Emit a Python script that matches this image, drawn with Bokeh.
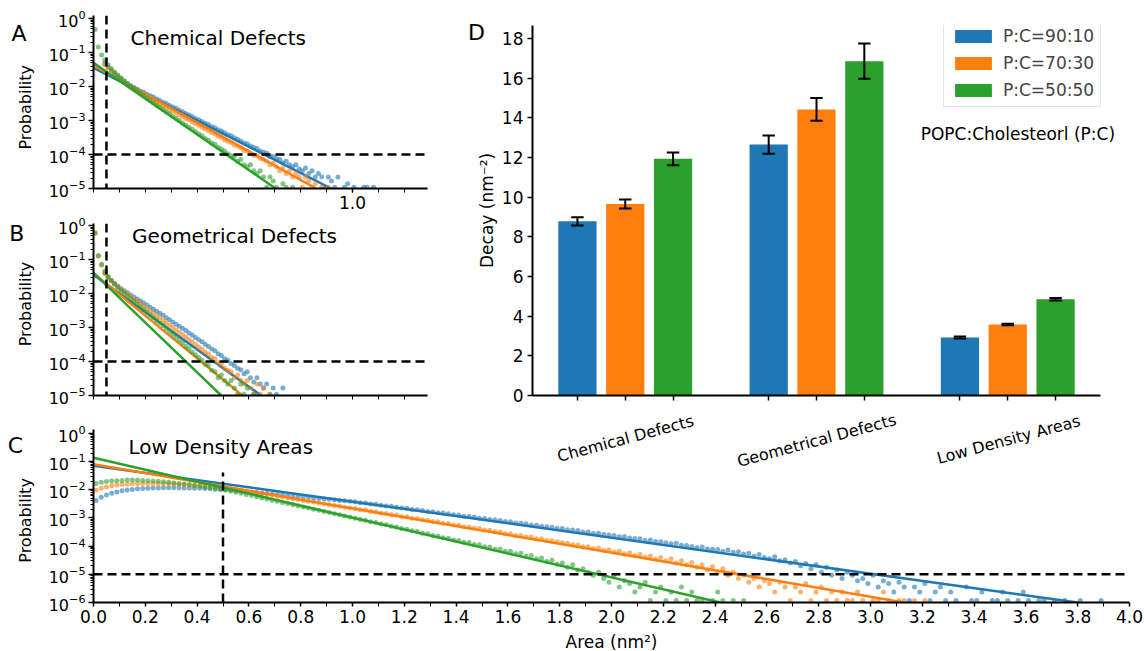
import numpy as np
from bokeh.plotting import figure
from bokeh.layouts import column, row
from bokeh.models import (Range1d, FixedTicker, CustomJSTickFormatter, Label, Span,
                          Legend, LegendItem)
from bokeh.embed import file_html
from bokeh.resources import INLINE

FONT = "DejaVu Sans"
COLORS = ["#1f77b4", "#ff7f0e", "#2ca02c"]
SERIES = ["P:C=90:10", "P:C=70:30", "P:C=50:50"]

# ---------------- area histograms: log10(probability) per bin, None = empty bin
# chemical defects, bin width 0.0125 nm^2
A_BIN = 0.0125
A_90_10 = [None, None, None, -1.33, -1.43, -1.52, -1.61, -1.70, -1.77, -1.85,
           -1.92, -1.98, -2.03, -2.08, -2.13, -2.17, -2.23, -2.27, -2.31, -2.37,
           -2.41, -2.46, -2.50, -2.56, -2.60, -2.64, -2.70, -2.74, -2.79, -2.84,
           -2.88, -2.94, -2.98, -3.03, -3.08, -3.12, -3.18, -3.21, -3.27, -3.31,
           -3.36, -3.42, -3.45, -3.51, -3.55, -3.60, -3.66, -3.68, -3.75, -3.79,
           -3.82, -3.90, -3.93, -3.96, -4.05, -4.06, -4.12, -4.15, -4.24, -4.20,
           -4.30, -4.36, -4.30, -4.42, -4.48, -4.40, -4.56, -4.48, -4.66, -4.56,
           -4.66, -4.96, -4.66, -4.78, -4.96, -4.66, None, -4.96, -4.86, None,
           -4.96, None, None, -4.96, -4.96, None, -4.96]
A_70_30 = [None, None, None, -1.36, -1.45, -1.55, -1.64, -1.73, -1.81, -1.89,
           -1.96, -2.02, -2.08, -2.14, -2.19, -2.25, -2.30, -2.35, -2.41, -2.46,
           -2.51, -2.57, -2.62, -2.67, -2.73, -2.77, -2.83, -2.88, -2.94, -2.98,
           -3.04, -3.09, -3.14, -3.20, -3.24, -3.30, -3.35, -3.40, -3.46, -3.50,
           -3.57, -3.61, -3.65, -3.72, -3.76, -3.80, -3.88, -3.90, -3.97, -4.02,
           -4.04, -4.12, -4.15, -4.20, -4.30, -4.26, -4.36, -4.48, -4.40, -4.56,
           -4.48, -4.66, -4.56, -4.66, -4.96, -4.66, -4.78, -4.96, -4.86, None,
           -4.96, None, -4.96]
A_50_50 = [-0.32, -0.84, -1.07, -1.22, -1.36, -1.47, -1.57, -1.66, -1.75, -1.83,
           -1.91, -1.99, -2.06, -2.13, -2.20, -2.27, -2.35, -2.41, -2.48, -2.55,
           -2.61, -2.68, -2.75, -2.80, -2.88, -2.93, -3.00, -3.07, -3.13, -3.20,
           -3.26, -3.33, -3.40, -3.45, -3.53, -3.58, -3.66, -3.70, -3.79, -3.84,
           -3.90, -3.98, -4.04, -4.06, -4.20, -4.15, -4.30, -4.36, -4.30, -4.48,
           -4.56, -4.48, -4.66, -4.96, -4.66, -4.78, -4.96, None, -4.86, -4.96,
           None, -4.96]
# exponential fits: log10 P at zero area, and area where the fit reaches the floor
A_FIT_P0 = [-1.45, -1.38, -1.30]
A_FIT_END = [0.918, 0.860, 0.703]

# geometrical defects, bin width 0.0125 nm^2
B_BIN = 0.0125
B_90_10 = [None, None, None, -1.40, -1.52, -1.62, -1.70, -1.78, -1.85, -1.92,
           -1.98, -2.04, -2.10, -2.16, -2.22, -2.28, -2.34, -2.40, -2.46, -2.52,
           -2.58, -2.64, -2.71, -2.77, -2.84, -2.90, -2.96, -3.02, -3.09, -3.16,
           -3.22, -3.29, -3.36, -3.42, -3.49, -3.56, -3.63, -3.68, -3.77, -3.82,
           -3.92, -3.96, -4.06, -4.12, -4.20, -4.24, -4.36, -4.30, -4.48, -4.60,
           -4.48, -4.66, -4.78, -4.66, -4.96, -4.78, -4.96, None, -4.78]
B_70_30 = [-0.23, -0.90, -1.17, -1.40, -1.52, -1.63, -1.72, -1.80, -1.88, -1.95,
           -2.02, -2.09, -2.16, -2.23, -2.30, -2.37, -2.44, -2.51, -2.58, -2.65,
           -2.72, -2.79, -2.86, -2.93, -3.00, -3.07, -3.14, -3.21, -3.28, -3.35,
           -3.42, -3.50, -3.57, -3.64, -3.72, -3.78, -3.88, -3.92, -4.04, -4.08,
           -4.20, -4.26, -4.30, -4.48, -4.40, -4.56, -4.66, -4.56, -4.78, -4.96,
           -4.66, -4.96, -4.78, None, -4.96]
B_50_50 = [-0.21, -0.88, -1.14, -1.34, -1.50, -1.62, -1.73, -1.82, -1.91, -1.99,
           -2.07, -2.15, -2.23, -2.31, -2.39, -2.47, -2.55, -2.63, -2.71, -2.79,
           -2.87, -2.95, -3.03, -3.12, -3.20, -3.28, -3.37, -3.45, -3.55, -3.62,
           -3.72, -3.80, -3.88, -3.96, -4.08, -4.12, -4.26, -4.30, -4.48, -4.40,
           -4.56, -4.66, -4.56, -4.78, -4.96, -4.66, -4.96, -4.78, None, -4.96]
B_FIT_P0 = [-1.45, -1.40, -1.39]
B_FIT_END = [0.647, 0.575, 0.493]

# low density areas, bin width 0.02 nm^2
C_BIN = 0.02
C_90_10 = [-2.38, -2.27, -2.19, -2.13, -2.08, -2.04, -2.01, -1.99, -1.97, -1.96,
           -1.95, -1.94, -1.94, -1.93, -1.93, -1.93, -1.93, -1.94, -1.94, -1.95,
           -1.95, -1.96, -1.97, -1.98, -1.99,
           -2.00, -2.02, -2.03, -2.05, -2.07, -2.08, -2.10, -2.12, -2.13, -2.15,
           -2.17, -2.18, -2.20, -2.22, -2.24, -2.25, -2.27, -2.29, -2.31, -2.32,
           -2.34, -2.36, -2.38, -2.39, -2.41,
           -2.43, -2.46, -2.47, -2.51, -2.52, -2.55, -2.58, -2.59, -2.62, -2.65,
           -2.66, -2.70, -2.71, -2.74, -2.77, -2.78, -2.82, -2.83, -2.85, -2.89,
           -2.90, -2.94, -2.95, -2.97, -3.01, -3.02, -3.06, -3.07, -3.09, -3.13,
           -3.14, -3.18, -3.19, -3.21, -3.25, -3.26, -3.30, -3.31, -3.33, -3.37,
           -3.38, -3.42, -3.43, -3.45, -3.50, -3.50, -3.55, -3.54, -3.59, -3.61,
           -3.62, -3.67, -3.66, -3.71, -3.73, -3.74, -3.80, -3.78, -3.84, -3.85,
           -3.88, -3.92, -3.90, -3.97, -3.98, -4.01, -4.06, -4.03, -4.10, -4.11,
           -4.12, -4.18, -4.14, -4.22, -4.20, -4.28, -4.25, -4.36, -4.30, -4.40,
           -4.45, -4.38, -4.52, -4.48, -4.60, -4.55, -4.70, -4.62, -4.80, -4.66,
           -4.93, -4.75, -5.03, -4.85, -5.15, -4.93, -5.03, -5.23, -5.15, -5.33,
           -5.03, -5.45, -5.23, -5.33, -5.63, -5.28, -5.45, -5.93, -5.45, -5.63,
           -5.33, -5.93, -5.63, -5.45, -5.93, -5.63, -5.93, None, -5.45, -5.93,
           -5.93, -5.63, None, -5.93, -5.93, -5.63, -5.93, None, -5.93, -5.63,
           -5.93, None, -5.93, -5.93, None, -5.93, None, -5.93, None, None,
           -5.93, None, None, None, -5.93]
C_70_30 = [-2.02, -1.95, -1.90, -1.86, -1.83, -1.81, -1.80, -1.79, -1.78, -1.78,
           -1.78, -1.78, -1.78, -1.79, -1.79, -1.80, -1.81, -1.82, -1.83, -1.84,
           -1.85, -1.86, -1.88, -1.89, -1.91,
           -1.93, -1.96, -1.99, -2.02, -2.05, -2.08, -2.11, -2.14, -2.17, -2.20,
           -2.23, -2.26, -2.29, -2.32, -2.35, -2.38, -2.41, -2.44, -2.47, -2.50,
           -2.53, -2.56, -2.59, -2.62, -2.65, -2.67, -2.71, -2.72, -2.77, -2.78,
           -2.83, -2.84, -2.89, -2.90, -2.95, -2.96, -3.01, -3.02, -3.07, -3.08,
           -3.13, -3.14, -3.19, -3.20, -3.25, -3.26, -3.31, -3.32, -3.37, -3.38,
           -3.43, -3.44, -3.49, -3.50, -3.56, -3.56, -3.62, -3.62, -3.68, -3.68,
           -3.74, -3.74, -3.80, -3.81, -3.85, -3.88, -3.90, -3.95, -3.96, -4.02,
           -4.02, -4.09, -4.07, -4.15, -4.13, -4.21, -4.18, -4.27, -4.24, -4.33,
           -4.30, -4.39, -4.35, -4.46, -4.40, -4.52,
           -4.45, -4.60, -4.52, -4.66, -4.58, -4.75, -4.66, -4.85, -4.72, -4.93,
           -4.80, -5.03, -4.93, -5.15, -5.03, -5.28, -5.15, -5.45, -5.23, -5.33,
           -5.63, -5.28, -5.45, -5.93, -5.45, -5.63, -5.33, -5.93, -5.63, -5.45,
           -5.93, -5.63, -5.93, -5.63, -5.93, -5.93, -5.63, -5.93, None, -5.93,
           -5.93, -5.63, -5.93, None, -5.93, -5.93, None, -5.93, None, -5.93]
C_50_50 = [-1.78, -1.74, -1.71, -1.69, -1.68, -1.67, -1.66, -1.66, -1.66, -1.67,
           -1.68, -1.69, -1.70, -1.72, -1.74, -1.76, -1.78, -1.80, -1.82, -1.85,
           -1.87, -1.90, -1.92, -1.95, -1.98,
           -2.01, -2.05, -2.09, -2.13, -2.17, -2.21, -2.25, -2.29, -2.33, -2.37,
           -2.41, -2.45, -2.49, -2.53, -2.57, -2.61, -2.65, -2.69, -2.73, -2.77,
           -2.81, -2.85, -2.89, -2.93, -2.97, -3.01, -3.06, -3.08, -3.14, -3.16,
           -3.22, -3.24, -3.30, -3.32, -3.38, -3.40, -3.46, -3.48, -3.54, -3.56,
           -3.62, -3.64, -3.70, -3.72, -3.78, -3.80, -3.86, -3.87, -3.94, -3.95,
           -4.02, -4.03, -4.10, -4.10, -4.18, -4.18, -4.27, -4.25, -4.36, -4.33,
           -4.45, -4.42, -4.55, -4.50, -4.64, -4.60,
           -4.75, -4.66, -4.85, -4.80, -4.93, -5.03, -4.93, -5.15, -5.28, -5.03,
           -5.45, -5.23, -5.33, -5.63, -5.45, -5.28, -5.93, -5.63, -5.45, -5.93,
           -5.63, -5.93, -5.45, -5.93, -5.63, -5.93, -5.93, None, -5.93, -5.63,
           -5.93, None, -5.93, None, -5.93]
C_FIT_P0 = [-1.15, -1.10, -0.87]
C_FIT_END = [3.80, 3.13, 2.42]

# ---------------- fitted decay constants (nm^-2) with errors
CATEGORIES = ["Chemical Defects", "Geometrical Defects", "Low Density Areas"]
DECAY_90_10 = [8.78, 12.65, 2.92]
DECAY_70_30 = [9.65, 14.42, 3.58]
DECAY_50_50 = [11.93, 16.85, 4.85]
ERR_90_10 = [0.21, 0.46, 0.05]
ERR_70_30 = [0.23, 0.57, 0.04]
ERR_50_50 = [0.32, 0.89, 0.06]


def style_axes(p, size):
    for ax in (p.xaxis[0], p.yaxis[0]):
        ax.axis_line_width = 2
        ax.axis_line_color = "black"
        ax.major_tick_line_width = 1.5
        ax.minor_tick_line_width = 1
        ax.major_tick_line_color = "black"
        ax.minor_tick_line_color = "black"
        ax.major_tick_in = 0
        ax.minor_tick_in = 0
        ax.major_label_text_font = FONT
        ax.major_label_text_font_size = size
        ax.major_label_text_color = "black"
    p.grid.visible = False
    p.outline_line_color = None


def add_text(p, x, y, s, size, align="left", baseline="alphabetic", angle=0.0,
             side="center"):
    lab = Label(x=x, y=y, text=s, text_font=FONT, text_font_size=size,
                text_color="black", text_align=align, text_baseline=baseline,
                angle=angle)
    if side == "center":
        p.add_layout(lab)
    else:
        p.add_layout(lab, side)


def prob_panel(width, height, x_end, floor_exp, y_top, axis_top, borders,
               x_ticks, x_minor):
    top, right, bottom, left = borders
    p = figure(width=width, height=height, y_axis_type="log",
               x_range=Range1d(0, x_end), y_range=Range1d(10.0 ** floor_exp, y_top),
               output_backend="svg", toolbar_location=None,
               min_border_top=top, min_border_right=right,
               min_border_bottom=bottom, min_border_left=left)
    style_axes(p, "16px")
    p.yaxis.ticker = FixedTicker(
        ticks=[10.0 ** e for e in range(floor_exp, 1)],
        minor_ticks=[m * 10.0 ** e for e in range(floor_exp, 0) for m in range(2, 10)])
    p.yaxis.bounds = (10.0 ** floor_exp, axis_top)
    p.yaxis.major_tick_out = 5
    p.yaxis.minor_tick_out = 3
    p.yaxis.major_label_standoff = 3
    p.xaxis.ticker = FixedTicker(ticks=x_ticks, minor_ticks=x_minor)
    p.xaxis.major_tick_out = 4
    p.xaxis.minor_tick_out = 4
    p.xaxis.major_label_standoff = 3
    p.xaxis.major_label_text_font_size = "17px"
    p.xaxis.formatter = CustomJSTickFormatter(code="return tick.toFixed(1)")
    return p


def draw_hist(p, bin_w, series, fit_p0, fit_end, floor):
    for vals, color, p0, xe in zip(series, COLORS, fit_p0, fit_end):
        logp = np.array(vals, dtype=float)
        area = (np.arange(len(logp)) + 0.5) * bin_w
        p.scatter(area, 10.0 ** logp, size=5, fill_color=color, fill_alpha=0.6,
                  line_color=None)
        p.line([0, xe], [10.0 ** p0, floor], line_color=color, line_width=2.5)


DASH = dict(line_color="black", line_width=2.5, line_dash="9 5")
tenth = [round(0.1 * k, 1) for k in range(13)]

# ---------------- A: chemical defects
pA = prob_panel(440, 215, 334 / 259, -5, 1.23, 1.23, (15, 13, 27, 93), [1.0], tenth)
draw_hist(pA, A_BIN, [A_90_10, A_70_30, A_50_50], A_FIT_P0, A_FIT_END, 1e-5)
pA.add_layout(Span(location=0.05, dimension="height", **DASH))
pA.add_layout(Span(location=1e-4, dimension="width", **DASH))
add_text(pA, 0.143, 10 ** -0.579, "Chemical Defects", "20px")
add_text(pA, -0.288, 10 ** -0.441, "A", "22px", align="center", side="left")
add_text(pA, -0.2625, 10 ** -2.61, "Probability", "16px", align="center",
         baseline="middle", angle=np.pi / 2, side="left")

# ---------------- B: geometrical defects
pB = prob_panel(440, 194, 334 / 259, -5, 1.15, 1.15, (8, 13, 14, 93), [], tenth)
draw_hist(pB, B_BIN, [B_90_10, B_70_30, B_50_50], B_FIT_P0, B_FIT_END, 1e-5)
pB.add_layout(Span(location=0.05, dimension="height", **DASH))
pB.add_layout(Span(location=1e-4, dimension="width", **DASH))
add_text(pB, 0.149, 10 ** -0.294, "Geometrical Defects", "20px")
add_text(pB, -0.296, 10 ** -0.235, "B", "22px", align="center", side="left")
add_text(pB, -0.2625, 10 ** -2.31, "Probability", "16px", align="center",
         baseline="middle", angle=np.pi / 2, side="left")

# ---------------- C: low density areas (frame reaches up to hold the group names)
c_major = [round(0.2 * k, 1) for k in range(21)]
c_minor = [round(0.1 + 0.2 * k, 1) for k in range(20)]
pC = prob_panel(1144, 242, 4.0, -6, 10 ** 0.844, 10 ** 0.14, (0, 15, 49, 93),
                c_major, c_minor)
draw_hist(pC, C_BIN, [C_90_10, C_70_30, C_50_50], C_FIT_P0, C_FIT_END, 1e-6)
pC.line([0.5, 0.5], [1e-6, 10 ** -1.39], **DASH)
pC.add_layout(Span(location=1e-5, dimension="width", **DASH))
add_text(pC, 0.135, 10 ** -0.493, "Low Density Areas", "20px")
add_text(pC, -0.301, 10 ** -0.433, "C", "22px", align="center", side="left")
add_text(pC, -0.2625, 10 ** -3.09, "Probability", "16px", align="center",
         baseline="middle", angle=np.pi / 2, side="left")
add_text(pC, 2.0, 10 ** -7.383, "Area (nm²)", "17px", align="center",
         baseline="middle", side="below")
# group names under the decay bars
for name, gx, gy in zip(CATEGORIES, [2.054, 2.792, 3.533], [-0.184, -0.255, -0.220]):
    add_text(pC, gx, 10 ** gy, name, "16px", align="center", baseline="middle",
             angle=np.radians(15))

# ---------------- D: decay constants
pD = figure(width=704, height=409, x_range=Range1d(-0.94, 11.86),
            y_range=Range1d(0, 18.65), output_backend="svg", toolbar_location=None,
            min_border_top=25, min_border_bottom=14, min_border_left=92,
            min_border_right=0)
style_axes(pD, "17px")
pD.yaxis.ticker = FixedTicker(ticks=list(range(0, 19, 2)))
pD.yaxis.major_tick_out = 5
pD.yaxis.major_label_standoff = 4
bar_pos = [4 * g + s for g in range(3) for s in range(3)]
pD.xaxis.ticker = FixedTicker(ticks=sorted(bar_pos))
pD.xaxis.bounds = (-0.94, 10.95)
pD.xaxis.major_tick_out = 5
pD.xaxis.formatter = CustomJSTickFormatter(code="return ''")

items = []
cap = 0.13
for s, (vals, errs, color, name) in enumerate(zip(
        [DECAY_90_10, DECAY_70_30, DECAY_50_50], [ERR_90_10, ERR_70_30, ERR_50_50],
        COLORS, SERIES)):
    xs = np.array([4 * g + s for g in range(3)], dtype=float)
    v = np.array(vals)
    e = np.array(errs)
    r = pD.vbar(x=xs, top=v, bottom=0, width=0.8, fill_color=color, line_color=None)
    pD.segment(x0=xs, y0=v - e, x1=xs, y1=v + e, line_color="black", line_width=2)
    pD.segment(x0=xs - cap, y0=v + e, x1=xs + cap, y1=v + e, line_color="black", line_width=2)
    pD.segment(x0=xs - cap, y0=v - e, x1=xs + cap, y1=v - e, line_color="black", line_width=2)
    items.append(LegendItem(label=name, renderers=[r]))

legend = Legend(items=items, location=(411, 288), orientation="vertical",
                label_text_font=FONT, label_text_font_size="17px",
                glyph_width=46, glyph_height=16, label_height=21, spacing=6,
                padding=6, label_standoff=7, border_line_color="#cccccc",
                border_line_width=1, background_fill_alpha=0.8, margin=0)
pD.add_layout(legend)
add_text(pD, 7.18, 13.16, "POPC:Cholesteorl (P:C)", "17px")
add_text(pD, -2.29, 18.3, "D", "22px", side="left")
add_text(pD, -1.893, 9.33, "Decay (nm⁻²)", "17px", align="center",
         baseline="middle", angle=np.pi / 2, side="left")

layout = column(row(column(pA, pB), pD), pC)
open("out.html", "w").write(file_html(layout, INLINE))
